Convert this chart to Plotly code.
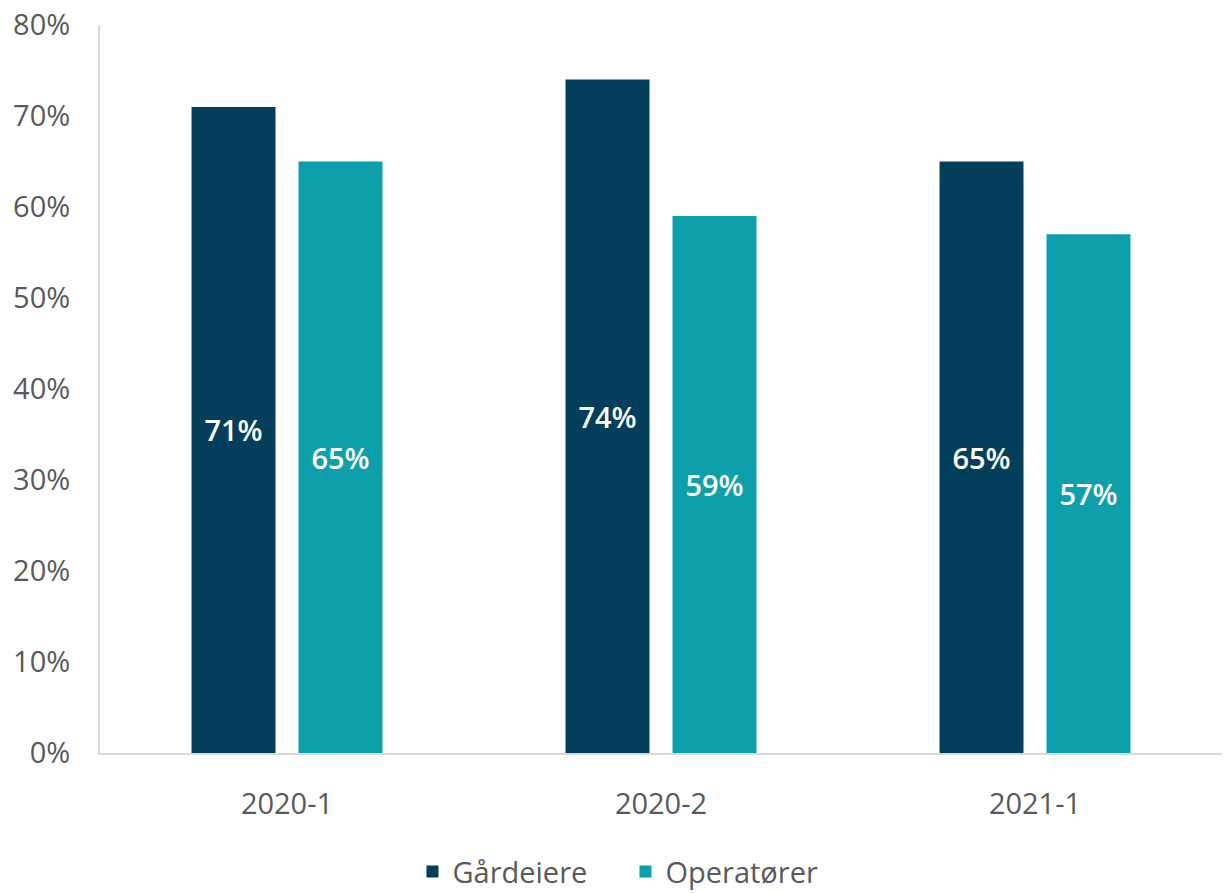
import plotly.graph_objects as go

periods = ["2020-1", "2020-2", "2021-1"]
gardeiere = [71, 74, 65]
operatorer = [65, 59, 57]
y_ticks = [0, 10, 20, 30, 40, 50, 60, 70, 80]
y_tick_labels = [f"{v}%" for v in y_ticks]

FONT = "Open Sans"
SIZE = 29
fig = go.Figure()
fig.add_trace(go.Bar(
    x=periods, y=gardeiere, name="Gårdeiere",
    marker=dict(color="#033F5A", line=dict(width=0)),
    text=[f"{v}%" for v in gardeiere], textposition="inside",
    insidetextanchor="middle", textangle=0,
    textfont=dict(color="white", size=SIZE, family=FONT, weight=600),
))
fig.add_trace(go.Bar(
    x=periods, y=operatorer, name="Operatører",
    marker=dict(color="#0DA0AB", line=dict(width=0)),
    text=[f"{v}%" for v in operatorer], textposition="inside",
    insidetextanchor="middle", textangle=0,
    textfont=dict(color="white", size=SIZE, family=FONT, weight=600),
))
fig.update_layout(
    width=1224, height=893,
    margin=dict(l=100, r=2, t=25, b=140),
    paper_bgcolor="white", plot_bgcolor="white",
    barmode="group", bargap=0.428, bargroupgap=0.215,
    font=dict(family=FONT, color="#595959", size=SIZE),
    uniformtext=dict(mode="show", minsize=SIZE),
    showlegend=True,
    legend=dict(orientation="h", xref="container", yref="container",
                x=0.511, xanchor="center", y=0.024, yanchor="middle",
                font=dict(size=SIZE, color="#595959"), itemwidth=30,
                entrywidth=168, entrywidthmode="pixels", tracegroupgap=0),
    xaxis=dict(type="category", showline=True, linecolor="#D9D9D9", linewidth=2, ticks="",
               ticklabelstandoff=24, tickfont=dict(size=SIZE, color="#595959")),
    yaxis=dict(range=[0, 80], tickvals=y_ticks, ticktext=y_tick_labels,
               showgrid=False, zeroline=False, showline=True, linecolor="#D9D9D9",
               linewidth=2, ticks="", ticklabelstandoff=22,
               tickfont=dict(size=SIZE, color="#595959")),
)
fig.write_html("out.html")
